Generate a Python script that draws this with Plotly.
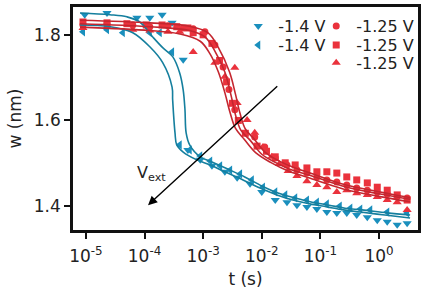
import plotly.graph_objects as go

# ---- data (log10 of t in s, w in nm) ----
blue_fit1_logt = [-5.10, -4.59, -4.20, -3.91, -3.69, -3.53, -3.52, -3.48, -3.45, -3.34, -3.11, -2.88, -2.63, -2.32,
                  -2.03, -1.74, -1.47, -1.18, -0.89, -0.61, -0.32, 0.10, 0.53]
blue_fit1_w = [1.823, 1.819, 1.805, 1.772, 1.735, 1.678, 1.648, 1.571, 1.543, 1.526, 1.508, 1.496, 1.480, 1.461,
               1.442, 1.426, 1.414, 1.405, 1.398, 1.391, 1.386, 1.379, 1.372]

blue_fit2_logt = [-5.10, -4.59, -4.30, -4.08, -3.86, -3.69, -3.52, -3.40, -3.34, -3.31, -3.29, -3.23, -3.05, -2.85,
                  -2.59, -2.29, -2.00, -1.71, -1.43, -1.14, -0.85, -0.58, -0.29, 0.14, 0.53]
blue_fit2_w = [1.851, 1.847, 1.842, 1.830, 1.795, 1.770, 1.749, 1.711, 1.671, 1.625, 1.571, 1.543, 1.515, 1.503,
               1.487, 1.468, 1.447, 1.430, 1.419, 1.409, 1.402, 1.395, 1.391, 1.384, 1.379]

blue_down_logt = [-5.02, -4.64, -4.13, -3.91, -3.70, -3.53, -3.34, -3.26, -3.05, -2.85, -2.63, -2.42, -2.20, -2.00,
                  -1.77, -1.57, -1.40, -1.23, -1.06, -0.89, -0.72, -0.55, -0.38, -0.20, -0.03, 0.14, 0.31, 0.48]
blue_down_w = [1.847, 1.851, 1.840, 1.840, 1.847, 1.828, 1.742, 1.531, 1.508, 1.494, 1.480, 1.466, 1.452, 1.433,
               1.414, 1.409, 1.402, 1.398, 1.393, 1.386, 1.384, 1.384, 1.379, 1.374, 1.367, 1.363, 1.356, 1.360]

blue_left_logt = [-5.05, -4.64, -4.37, -3.91, -3.74, -3.53, -3.40, -3.23, -3.05, -2.88, -2.71, -2.54, -2.37, -2.17,
                  -1.98, -1.77, -1.60, -1.43, -1.23, -1.06, -0.89, -0.67, -0.49, -0.32, -0.15, 0.14, 0.48]
blue_left_w = [1.807, 1.812, 1.805, 1.805, 1.805, 1.760, 1.543, 1.531, 1.517, 1.505, 1.494, 1.484, 1.475, 1.461,
               1.444, 1.433, 1.426, 1.419, 1.414, 1.409, 1.405, 1.400, 1.395, 1.393, 1.391, 1.386, 1.384]

red_fit1_logt = [-5.10, -3.91, -3.40, -3.05, -2.88, -2.74, -2.63, -2.54, -2.45, -2.30, -2.10, -1.85, -1.55, -1.20,
                 -0.61, 0.02, 0.53]
red_fit1_w = [1.818, 1.810, 1.802, 1.785, 1.755, 1.713, 1.665, 1.618, 1.582, 1.556, 1.524, 1.502, 1.482, 1.466,
              1.440, 1.422, 1.410]

red_fit2_logt = [-5.10, -3.91, -3.23, -2.97, -2.80, -2.63, -2.53, -2.45, -2.36, -2.20, -2.00, -1.77, -1.52, -1.18,
                 -0.61, 0.02, 0.53]
red_fit2_w = [1.826, 1.819, 1.810, 1.795, 1.762, 1.713, 1.662, 1.614, 1.578, 1.554, 1.521, 1.502, 1.486, 1.472,
              1.446, 1.428, 1.416]

red_fit3_logt = [-5.10, -3.91, -3.23, -2.92, -2.74, -2.55, -2.45, -2.37, -2.28, -2.12, -1.93, -1.70, -1.45, -1.15,
                 -0.61, 0.02, 0.53]
red_fit3_w = [1.834, 1.828, 1.820, 1.805, 1.770, 1.713, 1.662, 1.616, 1.580, 1.555, 1.524, 1.505, 1.490, 1.476,
              1.451, 1.433, 1.420]

red_circle_logt = [-5.05, -4.64, -4.20, -3.91, -3.60, -3.34, -3.17, -2.97, -2.80, -2.66, -2.56, -2.46, -2.12, -1.95,
                   -1.77, -1.57, -1.40, -1.23, -1.06, -0.89, -0.72, -0.55, -0.38, -0.20, -0.03, 0.14, 0.31, 0.48]
red_circle_w = [1.823, 1.826, 1.823, 1.819, 1.821, 1.816, 1.814, 1.807, 1.776, 1.725, 1.672, 1.625, 1.561, 1.538,
                1.512, 1.496, 1.484, 1.477, 1.468, 1.461, 1.456, 1.449, 1.442, 1.437, 1.433, 1.428, 1.423, 1.419]

red_square_logt = [-5.05, -4.64, -4.30, -3.97, -3.70, -3.45, -3.26, -3.17, -3.00, -2.85, -2.72, -2.60, -2.50, -2.40,
                   -2.28, -2.08, -1.92, -1.77, -1.60, -1.43, -1.23, -1.06, -0.89, -0.72, -0.55, -0.38, -0.20, -0.03,
                   0.14, 0.31, 0.48]
red_square_w = [1.830, 1.828, 1.826, 1.823, 1.823, 1.819, 1.816, 1.805, 1.800, 1.780, 1.740, 1.690, 1.640, 1.600,
                1.570, 1.540, 1.528, 1.515, 1.501, 1.496, 1.489, 1.480, 1.480, 1.477, 1.468, 1.461, 1.454, 1.444,
                1.437, 1.426, 1.414]

red_tri_logt = [-5.05, -4.64, -4.20, -3.91, -3.60, -3.40, -3.17, -2.80, -2.63, -2.46, -2.42, -2.25, -2.12, -1.98,
                -1.83, -1.70, -1.55, -1.40, -1.23, -1.06, -0.89, -0.72, -0.55, -0.38, -0.20, -0.03, 0.14, 0.31, 0.48]
red_tri_w = [1.816, 1.819, 1.812, 1.810, 1.807, 1.807, 1.760, 1.735, 1.702, 1.723, 1.641, 1.601, 1.571, 1.538,
             1.515, 1.498, 1.482, 1.470, 1.458, 1.449, 1.444, 1.433, 1.437, 1.430, 1.426, 1.421, 1.414, 1.409, 1.391]

x_tick_vals = [1e-5, 1e-4, 1e-3, 1e-2, 1e-1, 1e0]
x_tick_text = ["10<sup>-5</sup>", "10<sup>-4</sup>", "10<sup>-3</sup>", "10<sup>-2</sup>", "10<sup>-1</sup>",
               "10<sup>0</sup>"]
y_tick_vals = [1.4, 1.6, 1.8]
y_tick_text = ["1.4", "1.6", "1.8"]

BLUE_M = "#1a8fbd"
BLUE_L = "#157f9e"
RED_M = "#ea323c"
RED_L = "#c4262f"
FONT = "DejaVu Sans, Arial, sans-serif"
TXT = "#222"


def T(logs):
    return [10 ** v for v in logs]


fig = go.Figure()

# markers (one legend box per legend row, to match the compact two-column key)
fig.add_trace(go.Scatter(x=T(blue_down_logt), y=blue_down_w, mode="markers", name="-1.4 V",
                         marker=dict(symbol="triangle-down", size=8, color=BLUE_M), legend="legend"))
fig.add_trace(go.Scatter(x=T(blue_left_logt), y=blue_left_w, mode="markers", name="-1.4 V",
                         marker=dict(symbol="triangle-left", size=8, color=BLUE_M), legend="legend2"))
fig.add_trace(go.Scatter(x=T(red_circle_logt), y=red_circle_w, mode="markers", name="-1.25 V",
                         marker=dict(symbol="circle", size=7, color=RED_M), legend="legend3"))
fig.add_trace(go.Scatter(x=T(red_square_logt), y=red_square_w, mode="markers", name="-1.25 V",
                         marker=dict(symbol="square", size=7, color=RED_M), legend="legend4"))
fig.add_trace(go.Scatter(x=T(red_tri_logt), y=red_tri_w, mode="markers", name="-1.25 V",
                         marker=dict(symbol="triangle-up", size=8, color=RED_M), legend="legend5"))

# fit lines
for lx, ly, col in [(blue_fit1_logt, blue_fit1_w, BLUE_L), (blue_fit2_logt, blue_fit2_w, BLUE_L),
                    (red_fit1_logt, red_fit1_w, RED_L), (red_fit2_logt, red_fit2_w, RED_L),
                    (red_fit3_logt, red_fit3_w, RED_L)]:
    fig.add_trace(go.Scatter(x=T(lx), y=ly, mode="lines", line=dict(color=col, width=1.6, shape="spline"),
                             showlegend=False, hoverinfo="skip"))

# arrow V_ext
fig.add_annotation(x=-3.94, y=1.402, ax=-1.71, ay=1.683, xref="x", yref="y", axref="x", ayref="y",
                   showarrow=True, arrowhead=2, arrowsize=1.3, arrowwidth=1.4, arrowcolor="black", text="")
fig.add_annotation(x=-3.88, y=1.476, xref="x", yref="y", text="V<sub>ext</sub>", showarrow=False,
                   font=dict(size=16, color=TXT, family=FONT))

axis_common = dict(showline=True, linecolor="#111", linewidth=2.5, mirror=True, ticks="outside",
                   ticklen=6, tickwidth=2, tickcolor="#111", showgrid=False, zeroline=False,
                   tickfont=dict(size=17, color=TXT, family=FONT))

fig.update_xaxes(type="log", range=[-5.22, 0.665], tickvals=x_tick_vals, ticktext=x_tick_text,
                 ticklabelstandoff=3,
                 title=dict(text="t (s)", font=dict(size=17, color=TXT, family=FONT), standoff=8),
                 **axis_common)
fig.update_yaxes(range=[1.344, 1.865], tickvals=y_tick_vals, ticktext=y_tick_text,
                 title=dict(text="w (nm)", font=dict(size=17, color=TXT, family=FONT), standoff=8),
                 **axis_common)

legend_common = dict(bgcolor="rgba(0,0,0,0)", font=dict(size=16, color=TXT, family=FONT),
                     xanchor="left", yanchor="top", itemwidth=30, tracegroupgap=0)
col1_x, col2_x = 0.479, 0.705
row_y = [0.991, 0.905, 0.826]
fig.update_layout(
    width=429, height=291,
    margin=dict(l=73, r=11, t=7, b=61, autoexpand=False),
    paper_bgcolor="white", plot_bgcolor="white",
    legend=dict(x=col1_x, y=row_y[0], **legend_common),
    legend2=dict(x=col1_x, y=row_y[1], **legend_common),
    legend3=dict(x=col2_x, y=row_y[0], **legend_common),
    legend4=dict(x=col2_x, y=row_y[1], **legend_common),
    legend5=dict(x=col2_x, y=row_y[2], **legend_common),
)

fig.write_html("out.html", config={"displayModeBar": False},
               post_script="document.body.style.margin='0';document.body.style.overflow='hidden';")
